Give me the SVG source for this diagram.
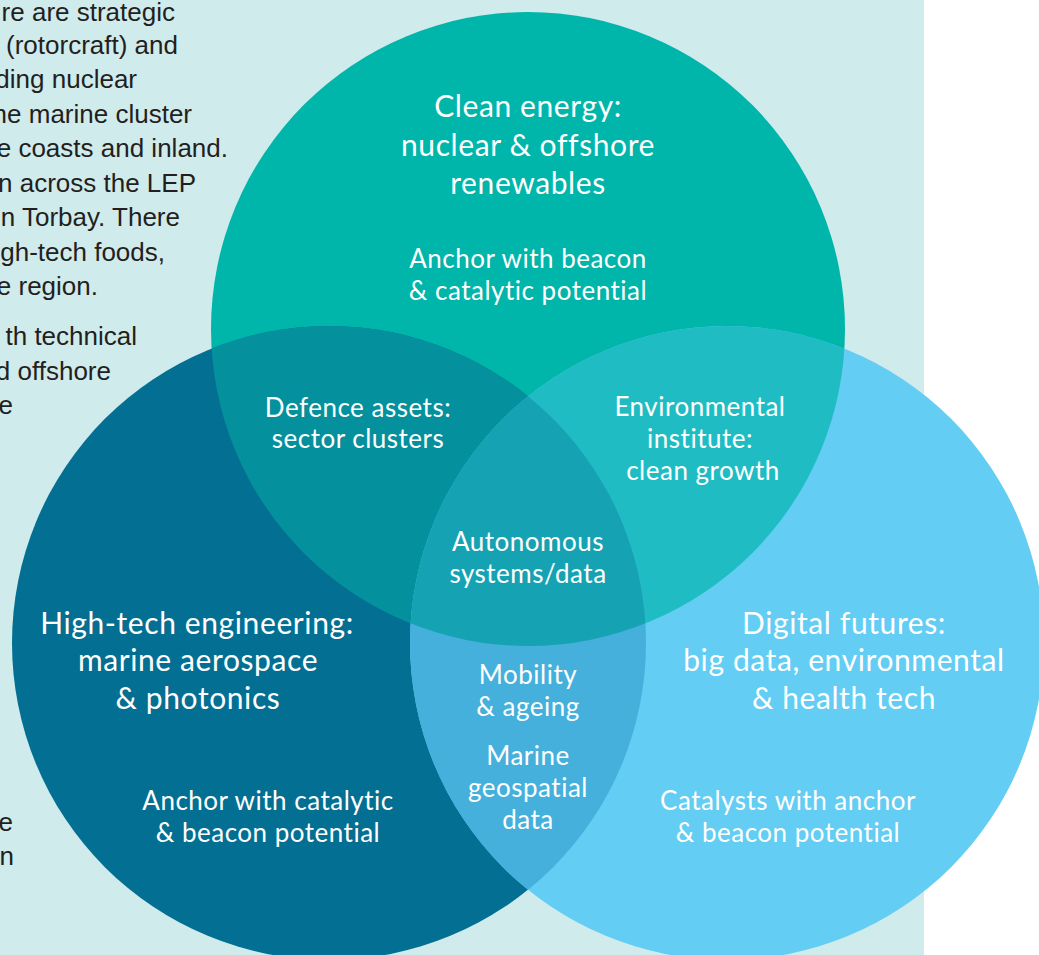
<svg xmlns="http://www.w3.org/2000/svg" width="1039" height="955" viewBox="0 0 1039 955">
<style>
.body{font-family:"Liberation Sans",Arial,sans-serif;font-size:26px;fill:#231f20;text-anchor:end}
.t{font-family:Lato,"Open Sans",sans-serif;fill:#ffffff;text-anchor:middle}
.h{font-size:30px;letter-spacing:0.6px}
.s{font-size:26px;letter-spacing:0.5px}
</style>
<defs>
<clipPath id="cT"><circle cx="528" cy="329" r="317"/></clipPath>
<clipPath id="cL"><circle cx="329" cy="643" r="317"/></clipPath>
<clipPath id="cR"><circle cx="727" cy="643" r="317"/></clipPath>
</defs>
<rect x="0" y="0" width="1039" height="955" fill="#ffffff"/>
<rect x="0" y="0" width="924" height="955" fill="#d0ebec"/>
<g id="paragraph">
<text class="body" x="175" y="21">re are strategic</text>
<text class="body" x="178" y="54">(rotorcraft) and</text>
<text class="body" x="137" y="88">ding nuclear</text>
<text class="body" x="192" y="123">he marine cluster</text>
<text class="body" x="228" y="157">e coasts and inland.</text>
<text class="body" x="196" y="192">n across the LEP</text>
<text class="body" x="180" y="226">n Torbay. There</text>
<text class="body" x="165" y="261">gh-tech foods,</text>
<text class="body" x="98" y="295">e region.</text>
<text class="body" x="137" y="345">th technical</text>
<text class="body" x="111" y="380">d offshore</text>
<text class="body" x="13" y="414">e</text>
<text class="body" x="13" y="831">e</text>
<text class="body" x="14" y="865">n</text>
</g>
<g id="circle-clean-energy"><circle cx="528" cy="329" r="317" fill="#00b5aa"/></g>
<g id="circle-high-tech"><circle cx="329" cy="643" r="317" fill="#036f92"/></g>
<g id="circle-digital"><circle cx="727" cy="643" r="317" fill="#63cdf4"/></g>
<g id="overlap-top-left" clip-path="url(#cT)"><circle cx="329" cy="643" r="317" fill="#04909c"/></g>
<g id="overlap-top-right" clip-path="url(#cT)"><circle cx="727" cy="643" r="317" fill="#1fbdc3"/></g>
<g id="overlap-left-right" clip-path="url(#cL)"><circle cx="727" cy="643" r="317" fill="#45b0db"/></g>
<g id="overlap-all" clip-path="url(#cT)"><g clip-path="url(#cL)"><circle cx="727" cy="643" r="317" fill="#15a3b3"/></g></g>
<g id="label-clean-energy" class="t">
<text class="h" x="528" y="117">Clean energy:</text>
<text class="h" x="528" y="156">nuclear &amp; offshore</text>
<text class="h" x="528" y="194">renewables</text>
<text class="s" x="528" y="268">Anchor with beacon</text>
<text class="s" x="528" y="300">&amp; catalytic potential</text>
</g>
<g id="label-defence" class="t">
<text class="s" x="358" y="417">Defence assets:</text>
<text class="s" x="358" y="448">sector clusters</text>
</g>
<g id="label-environmental" class="t">
<text class="s" x="700" y="416">Environmental</text>
<text class="s" x="700" y="448">institute:</text>
<text class="s" x="703" y="480">clean growth</text>
</g>
<g id="label-autonomous" class="t">
<text class="s" x="528" y="551">Autonomous</text>
<text class="s" x="528" y="583">systems/data</text>
</g>
<g id="label-mobility" class="t">
<text class="s" x="528" y="684">Mobility</text>
<text class="s" x="528" y="716">&amp; ageing</text>
</g>
<g id="label-marine" class="t">
<text class="s" x="528" y="765">Marine</text>
<text class="s" x="528" y="797">geospatial</text>
<text class="s" x="528" y="829">data</text>
</g>
<g id="label-high-tech" class="t">
<text class="h" x="197" y="634">High-tech engineering:</text>
<text class="h" x="198" y="671">marine aerospace</text>
<text class="h" x="198" y="709">&amp; photonics</text>
<text class="s" x="268" y="810">Anchor with catalytic</text>
<text class="s" x="268" y="842">&amp; beacon potential</text>
</g>
<g id="label-digital" class="t">
<text class="h" x="844" y="634">Digital futures:</text>
<text class="h" x="844" y="671">big data, environmental</text>
<text class="h" x="844" y="709">&amp; health tech</text>
<text class="s" x="788" y="810">Catalysts with anchor</text>
<text class="s" x="788" y="842">&amp; beacon potential</text>
</g>
</svg>
